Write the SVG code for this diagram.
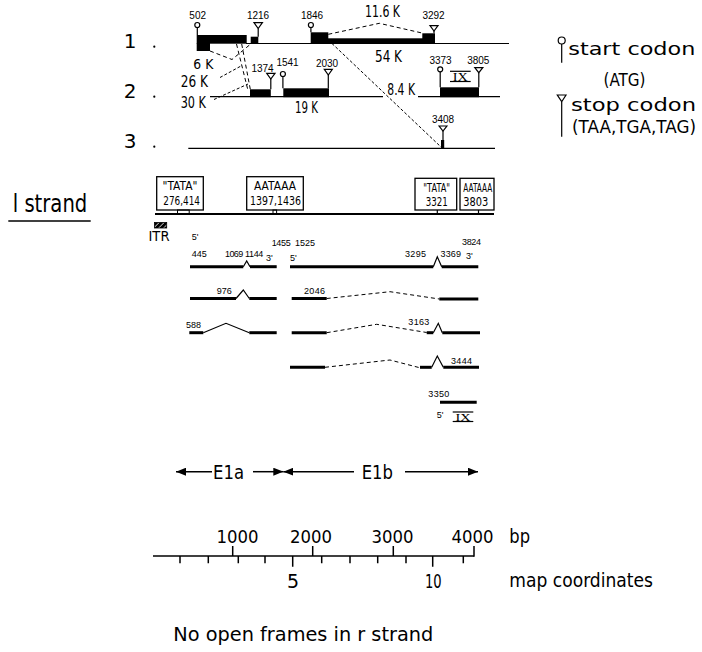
<svg xmlns="http://www.w3.org/2000/svg" width="702" height="652" viewBox="0 0 702 652">
<defs>
<style>
text{font-family:"DejaVu Sans","Liberation Sans",sans-serif;fill:#000}
.n{font-family:"Liberation Sans",Arial,sans-serif;font-size:10px;text-anchor:middle}
.s{font-family:"Liberation Sans",Arial,sans-serif;font-size:9px}
.thin{stroke:#000;stroke-width:1.2;fill:none}
.thick{stroke:#000;stroke-width:3;fill:none}
.dash{stroke:#000;stroke-width:1;fill:none;stroke-dasharray:4 3}
.fdash{stroke:#000;stroke-width:1;fill:none;stroke-dasharray:3 2}
.box{fill:#fff;stroke:#000;stroke-width:1.3}
.sym{fill:#fff;stroke:#000;stroke-width:1.2}
.ax{stroke:#000;stroke-width:1.5;fill:none}
</style>
<marker id="ah" markerUnits="userSpaceOnUse" markerWidth="10" markerHeight="8" refX="10" refY="4" orient="auto"><path d="M0,0 L10,4 L0,8 z" fill="#000"/></marker>
<pattern id="hatch" patternUnits="userSpaceOnUse" width="3.5" height="3.5" patternTransform="rotate(45)"><rect width="3.5" height="3.5" fill="#000"/><line x1="0" y1="0" x2="0" y2="3.5" stroke="#fff" stroke-width="1.3"/></pattern>
</defs>
<rect width="702" height="652" fill="#fff"/>

<g id="frame1">
<text x="130" y="48" font-size="20" text-anchor="middle">1</text>
<circle cx="154.3" cy="46.7" r="1.1"/>
<line x1="246" y1="43.5" x2="509" y2="43.5" class="thin"/>
<rect x="196.7" y="35" width="50" height="8.7"/>
<rect x="196.7" y="43" width="13.3" height="8"/>
<rect x="250.7" y="36.7" width="7.6" height="7"/>
<rect x="310.7" y="32.3" width="17.6" height="11.4"/>
<rect x="328" y="38.3" width="95" height="5.4"/>
<rect x="422.3" y="33.3" width="12.7" height="10.4"/>
<line x1="197.3" y1="27.5" x2="197.3" y2="35" class="thin"/><circle cx="197.3" cy="25" r="2.5" class="sym"/>
<line x1="258.2" y1="28.5" x2="258.2" y2="36.7" class="thin"/><polygon points="254,22.7 262.4,22.7 258.2,28.5" class="sym"/>
<line x1="310.9" y1="27.5" x2="310.9" y2="32.3" class="thin"/><circle cx="310.9" cy="25" r="2.5" class="sym"/>
<line x1="434" y1="31" x2="434" y2="33.3" class="thin"/><polygon points="430,25.7 438,25.7 434,31" class="sym"/>
<text class="n" x="197.7" y="18.5">502</text>
<text class="n" x="258" y="18.5">1216</text>
<text class="n" x="312" y="18.5">1846</text>
<text class="n" x="433.5" y="18.5">3292</text>
<text x="365" y="16.7" font-size="16" textLength="35" lengthAdjust="spacingAndGlyphs">11.6 K</text>
<text x="375" y="61.7" font-size="16" textLength="27" lengthAdjust="spacingAndGlyphs">54 K</text>
<text x="193.3" y="69.3" font-size="14" textLength="20" lengthAdjust="spacingAndGlyphs">6 K</text>
</g>

<g id="frame2">
<text x="130" y="97.5" font-size="20" text-anchor="middle">2</text>
<circle cx="154.3" cy="96.7" r="1.1"/>
<line x1="210" y1="96.7" x2="383" y2="96.7" class="thin"/>
<line x1="418" y1="96.7" x2="500" y2="96.7" class="thin"/>
<rect x="250" y="89.3" width="20.8" height="7.9"/>
<rect x="283.3" y="88.3" width="45.7" height="8.9"/>
<rect x="440" y="87.3" width="39" height="9.9"/>
<line x1="270.8" y1="79" x2="270.8" y2="89.3" class="thin"/><polygon points="266.7,73.3 275,73.3 270.8,79" class="sym"/>
<line x1="282.9" y1="76.5" x2="282.9" y2="88.3" class="thin"/><circle cx="282.9" cy="74" r="2.5" class="sym"/>
<line x1="328.3" y1="75" x2="328.3" y2="88.3" class="thin"/><polygon points="324.3,69.3 332.3,69.3 328.3,75" class="sym"/>
<line x1="440.2" y1="71.8" x2="440.2" y2="87.3" class="thin"/><circle cx="440.2" cy="69.3" r="2.5" class="sym"/>
<line x1="478.8" y1="72.7" x2="478.8" y2="87.3" class="thin"/><polygon points="474.8,67.7 482.8,67.7 478.8,72.7" class="sym"/>
<text class="n" x="262.5" y="71.7">1374</text>
<text class="n" x="287.5" y="65.7">1541</text>
<text class="n" x="327" y="66.7">2030</text>
<text class="n" x="440.5" y="64.3">3373</text>
<text class="n" x="478.3" y="64.3">3805</text>
<line x1="450" y1="71.3" x2="470.7" y2="71.3" class="thin"/>
<line x1="450" y1="81.5" x2="470.7" y2="81.5" class="thin"/>
<text x="460.3" y="80.5" font-size="12" text-anchor="middle" style="font-family:'Liberation Serif',serif" textLength="15" lengthAdjust="spacingAndGlyphs">IX</text>
<text x="295" y="113.3" font-size="15" textLength="23" lengthAdjust="spacingAndGlyphs">19 K</text>
<text x="387.3" y="95" font-size="16" textLength="27.7" lengthAdjust="spacingAndGlyphs">8.4 K</text>
<text x="180.7" y="87.3" font-size="15" textLength="27.3" lengthAdjust="spacingAndGlyphs">26 K</text>
<text x="180.7" y="108.3" font-size="15" textLength="25.3" lengthAdjust="spacingAndGlyphs">30 K</text>
</g>

<g id="frame3">
<text x="130" y="148.3" font-size="20" text-anchor="middle">3</text>
<circle cx="154.3" cy="146.7" r="1.1"/>
<line x1="188.3" y1="148.3" x2="495" y2="148.3" class="thin"/>
<rect x="441" y="140" width="3.2" height="8.3"/>
<line x1="443" y1="131" x2="443" y2="148.3" class="thin"/><polygon points="439.1,126 446.9,126 443,131" class="sym"/>
<text class="n" x="443" y="123.3">3408</text>
</g>

<g id="connectors">
<polyline points="210,51 232,59.5 250.7,44" class="dash"/>
<line x1="236.5" y1="44" x2="247.7" y2="89.3" class="dash"/>
<line x1="241.7" y1="44" x2="250.3" y2="89.3" class="dash"/>
<line x1="220" y1="77.5" x2="241" y2="66" class="fdash"/>
<line x1="214" y1="99.5" x2="248" y2="84" class="fdash"/>
<polyline points="328.3,34.3 379.3,23.3 423.3,33.3" class="dash"/>
<line x1="328.3" y1="40" x2="441" y2="147" class="fdash"/>
</g>

<g id="legend">
<line x1="561.7" y1="44" x2="561.7" y2="62.7" class="thin"/><circle cx="561.7" cy="40.5" r="3.5" class="sym"/>
<text x="568.3" y="54.5" font-size="18" textLength="127" lengthAdjust="spacingAndGlyphs">start codon</text>
<text x="603.5" y="85.5" font-size="17" textLength="42" lengthAdjust="spacingAndGlyphs">(ATG)</text>
<line x1="561.7" y1="101.7" x2="561.7" y2="136.7" class="thin"/><polygon points="557.3,95 566,95 561.7,101.7" class="sym"/>
<text x="571" y="110.5" font-size="18" textLength="125" lengthAdjust="spacingAndGlyphs">stop codon</text>
<text x="572" y="132.5" font-size="17" textLength="124" lengthAdjust="spacingAndGlyphs">(TAA,TGA,TAG)</text>
</g>

<g id="lstrand">
<text x="12.7" y="211.7" font-size="24" textLength="74.6" lengthAdjust="spacingAndGlyphs">l strand</text>
<line x1="8.3" y1="221" x2="90.7" y2="221" class="ax"/>
<line x1="155" y1="214" x2="494" y2="214" stroke="#000" stroke-width="2"/>
<rect x="154.5" y="222.5" width="12.2" height="5.5" fill="url(#hatch)" stroke="#000" stroke-width="0.8"/>
<text x="148.5" y="241" font-size="14" textLength="21" lengthAdjust="spacingAndGlyphs">ITR</text>
<rect x="156.7" y="176.7" width="46.6" height="33.3" class="box"/>
<text x="180" y="190" font-size="12" text-anchor="middle" textLength="35" lengthAdjust="spacingAndGlyphs">"TATA"</text>
<text x="181.6" y="205" font-size="12" text-anchor="middle" textLength="36.7" lengthAdjust="spacingAndGlyphs">276,414</text>
<rect x="177.5" y="210" width="11.7" height="4" fill="none" stroke="#000" stroke-width="1"/>
<rect x="246.7" y="176.7" width="56.6" height="33.3" class="box"/>
<text x="275" y="190" font-size="12" text-anchor="middle" textLength="42" lengthAdjust="spacingAndGlyphs">AATAAA</text>
<text x="275.5" y="205" font-size="12" text-anchor="middle" textLength="51" lengthAdjust="spacingAndGlyphs">1397,1436</text>
<rect x="273" y="210" width="3.6" height="4" fill="none" stroke="#000" stroke-width="1"/>
<rect x="415" y="178.3" width="41.7" height="31.7" class="box"/>
<text x="436.7" y="191.7" font-size="12" text-anchor="middle" textLength="26.7" lengthAdjust="spacingAndGlyphs">"TATA"</text>
<text x="436.7" y="205.7" font-size="12" text-anchor="middle" textLength="22" lengthAdjust="spacingAndGlyphs">3321</text>
<line x1="437.3" y1="210" x2="437.3" y2="214" class="thin"/>
<rect x="460" y="178.3" width="34" height="31.7" class="box"/>
<text x="463.3" y="191.7" font-size="12" textLength="29" lengthAdjust="spacingAndGlyphs">AATAAA</text>
<text x="463.3" y="205.7" font-size="12" textLength="25" lengthAdjust="spacingAndGlyphs">3803</text>
<line x1="478.5" y1="210" x2="478.5" y2="214" class="thin"/>
</g>

<g id="transcript1">
<line x1="190" y1="266.7" x2="243.3" y2="266.7" class="thick"/>
<polyline points="243.3,266.7 246.7,261 250,266.7" class="thin"/>
<line x1="250" y1="266.7" x2="276.7" y2="266.7" class="thick"/>
<line x1="290" y1="266.7" x2="433.3" y2="266.7" class="thick"/>
<polyline points="433.3,266.7 437.3,256.7 441.7,266.7" class="thin"/>
<line x1="441.7" y1="266.7" x2="478.3" y2="266.7" class="thick"/>
<text class="s" x="191.7" y="240">5'</text>
<text class="s" x="191.7" y="256.7" textLength="15">445</text>
<text class="s" x="225" y="256.7" textLength="18.3">1069</text>
<text class="s" x="245" y="256.7" textLength="18.3">1144</text>
<text class="s" x="266" y="261">3'</text>
<text class="s" x="271.7" y="245.5" textLength="19">1455</text>
<text class="s" x="295" y="245.5" textLength="20">1525</text>
<text class="s" x="290" y="261">5'</text>
<text class="s" x="405" y="256.7" textLength="21">3295</text>
<text class="s" x="440.5" y="256.7" textLength="20.5">3369</text>
<text class="s" x="462" y="244.5" textLength="19">3824</text>
<text class="s" x="466" y="258.5">3'</text>
</g>

<g id="transcript2">
<line x1="190" y1="298.5" x2="236" y2="298.5" class="thick"/>
<polyline points="236,298.5 243.3,290 249.3,298.5" class="thin"/>
<line x1="249.3" y1="298.5" x2="276.7" y2="298.5" class="thick"/>
<line x1="291.7" y1="298.5" x2="326.7" y2="298.5" class="thick"/>
<polyline points="326.7,298.5 390,291.7 439.3,299" class="dash"/>
<line x1="439.3" y1="299" x2="478.3" y2="299" class="thick"/>
<text class="s" x="216.7" y="294">976</text>
<text class="s" x="304" y="294" textLength="21">2046</text>
</g>

<g id="transcript3">
<line x1="189.3" y1="332.7" x2="203.3" y2="332.7" class="thick"/>
<polyline points="203.3,332.7 226,323.3 249.3,332.7" class="thin"/>
<line x1="249.3" y1="332.7" x2="276.7" y2="332.7" class="thick"/>
<line x1="291.7" y1="332.7" x2="326.7" y2="332.7" class="thick"/>
<polyline points="326.7,332.7 376.7,324.3 426.7,332.5" class="dash"/>
<line x1="426.7" y1="332.7" x2="433.3" y2="332.7" class="thick"/>
<polyline points="433.3,332.7 438.3,323.3 442.3,332.7" class="thin"/>
<line x1="442.3" y1="332.7" x2="480" y2="332.7" class="thick"/>
<text class="s" x="186" y="328">588</text>
<text class="s" x="408.3" y="325" textLength="21">3163</text>
</g>

<g id="transcript4">
<line x1="290" y1="367.3" x2="325" y2="367.3" class="thick"/>
<polyline points="325,367.3 390,360 420,367.8" class="dash"/>
<line x1="420" y1="367.3" x2="431.7" y2="367.3" class="thick"/>
<polyline points="431.7,367.3 437.3,356 443.3,367.3" class="thin"/>
<line x1="443.3" y1="367.3" x2="479" y2="367.3" class="thick"/>
<text class="s" x="451" y="364" textLength="21">3444</text>
</g>

<g id="transcript5">
<line x1="440" y1="402.3" x2="476.7" y2="402.3" class="thick"/>
<text class="s" x="428.3" y="397.3" textLength="21">3350</text>
<text class="s" x="436.7" y="418.3">5'</text>
<line x1="452.7" y1="412" x2="473.3" y2="412" class="thin"/>
<line x1="452.7" y1="421.5" x2="473.3" y2="421.5" class="thin"/>
<text x="463" y="420.5" font-size="11" text-anchor="middle" style="font-family:'Liberation Serif',serif" textLength="15" lengthAdjust="spacingAndGlyphs">IX</text>
</g>

<g id="regions">
<line x1="212" y1="471.7" x2="176" y2="471.7" class="ax" marker-end="url(#ah)"/>
<text x="213" y="479" font-size="19" textLength="31" lengthAdjust="spacingAndGlyphs">E1a</text>
<line x1="253" y1="471.7" x2="283.3" y2="471.7" class="ax" marker-end="url(#ah)"/>
<line x1="354" y1="471.7" x2="283.3" y2="471.7" class="ax" marker-end="url(#ah)"/>
<text x="361.7" y="479" font-size="19" textLength="31.3" lengthAdjust="spacingAndGlyphs">E1b</text>
<line x1="405" y1="471.7" x2="478" y2="471.7" class="ax" marker-end="url(#ah)"/>
</g>

<g id="scale">
<line x1="153" y1="556" x2="474" y2="556" class="ax"/>
<path d="M232.7,556V546M312.7,556V546M393.3,556V546M474,556.7V546" class="ax"/>
<path d="M180,556V563.3M208.3,556V563.3M238.3,556V563.3M265,556V563.3M292.7,556V566.7M321.7,556V563.3M350,556V563.3M377.7,556V563.3M406,556V563.3M432.7,556V566.7M463.3,556V563.3" class="ax"/>
<text x="237.5" y="543" font-size="18" text-anchor="middle" textLength="42" lengthAdjust="spacingAndGlyphs">1000</text>
<text x="311" y="543" font-size="18" text-anchor="middle" textLength="42" lengthAdjust="spacingAndGlyphs">2000</text>
<text x="392.5" y="543" font-size="18" text-anchor="middle" textLength="42" lengthAdjust="spacingAndGlyphs">3000</text>
<text x="472.5" y="543" font-size="18" text-anchor="middle" textLength="42" lengthAdjust="spacingAndGlyphs">4000</text>
<text x="509.3" y="543" font-size="19" textLength="20.7" lengthAdjust="spacingAndGlyphs">bp</text>
<text x="293" y="588.3" font-size="19" text-anchor="middle">5</text>
<text x="433.3" y="588.3" font-size="19" text-anchor="middle" textLength="16.7" lengthAdjust="spacingAndGlyphs">10</text>
<text x="509.3" y="587" font-size="19" textLength="143.7" lengthAdjust="spacingAndGlyphs">map coordinates</text>
</g>

<text x="173.3" y="640.7" font-size="19" textLength="260" lengthAdjust="spacingAndGlyphs">No open frames in r strand</text>
</svg>
